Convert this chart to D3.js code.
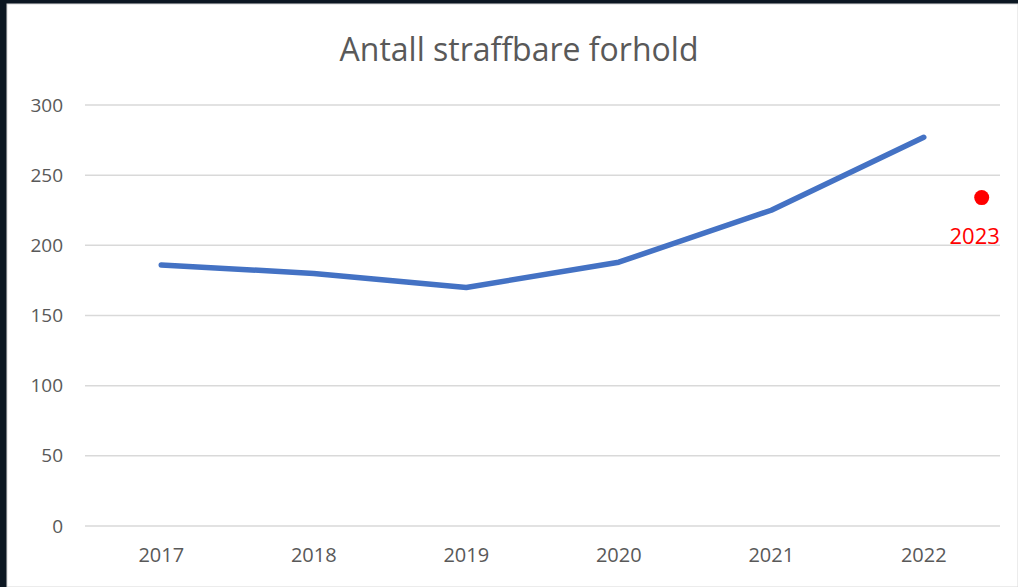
<!DOCTYPE html>
<meta charset="utf-8">
<head>
<style>
  body { margin: 0; background: #0c1722; }
  .axis text { font-family: "Open Sans", sans-serif; fill: #595959; }
</style>
</head>
<body>
<script src="https://cdnjs.cloudflare.com/ajax/libs/d3/7.8.5/d3.min.js"></script>
<script>
const years = ["2017", "2018", "2019", "2020", "2021", "2022"];
const counts = [186, 180, 170, 188, 225, 277];
const yTicks = [0, 50, 100, 150, 200, 250, 300];
const extraLabel = "2023";
const extraValue = 234;
const extraPos = 5.38; // position in category units, between 2022 and the right edge

const W = 1018, H = 587;
const plot = {left: 85, right: 1000, top: 105, bottom: 526};

const svg = d3.select("body").append("svg")
  .attr("width", W)
  .attr("height", H)
  .style("display", "block");

// dark frame, white chart area
svg.append("rect").attr("width", W).attr("height", H).attr("fill", "#0c1722");
svg.append("rect")
  .attr("x", 7).attr("y", 4)
  .attr("width", W - 7).attr("height", H - 4)
  .attr("fill", "#fff")
  .attr("stroke", "#d9d9d9").attr("stroke-width", 1);

const x = d3.scaleBand().domain(years).range([plot.left, plot.right]);
const xi = d3.scaleLinear().domain([-0.5, years.length - 0.5]).range([plot.left, plot.right]);
const y = d3.scaleLinear().domain([0, 300]).range([plot.bottom, plot.top]);

// gridlines
svg.append("g")
  .selectAll("line")
  .data(yTicks)
  .join("line")
    .attr("x1", plot.left).attr("x2", plot.right)
    .attr("y1", d => y(d)).attr("y2", d => y(d))
    .attr("stroke", "#d9d9d9").attr("stroke-width", 1.5);

const yAxis = svg.append("g")
  .attr("class", "axis")
  .attr("transform", `translate(${plot.left},0)`)
  .call(d3.axisLeft(y).tickValues(yTicks).tickSize(0).tickPadding(22));
yAxis.select(".domain").remove();
yAxis.selectAll("text").style("font-size", "19px");

const xAxis = svg.append("g")
  .attr("class", "axis")
  .attr("transform", `translate(0,${plot.bottom})`)
  .call(d3.axisBottom(x).tickSize(0).tickPadding(22));
xAxis.select(".domain").remove();
xAxis.selectAll("text").style("font-size", "20px");

const line = d3.line()
  .x((d, i) => x(years[i]) + x.bandwidth() / 2)
  .y(d => y(d));

svg.append("path")
  .datum(counts)
  .attr("d", line)
  .attr("fill", "none")
  .attr("stroke", "#4472c4")
  .attr("stroke-width", 5.5)
  .attr("stroke-linecap", "round")
  .attr("stroke-linejoin", "round");

// 2023 marker
svg.append("circle")
  .attr("cx", xi(extraPos))
  .attr("cy", y(extraValue))
  .attr("r", 7.5)
  .attr("fill", "#ff0000");

svg.append("text")
  .attr("x", xi(extraPos) - 7)
  .attr("y", y(extraValue) + 46)
  .attr("text-anchor", "middle")
  .style("font-family", "'Open Sans', sans-serif")
  .style("font-size", "22px")
  .attr("fill", "#ff0000")
  .text(extraLabel);

svg.append("text")
  .attr("x", 519)
  .attr("y", 61)
  .attr("text-anchor", "middle")
  .style("font-family", "'Open Sans', sans-serif")
  .style("font-size", "32px")
  .attr("fill", "#595959")
  .text("Antall straffbare forhold");
</script>
</body>
